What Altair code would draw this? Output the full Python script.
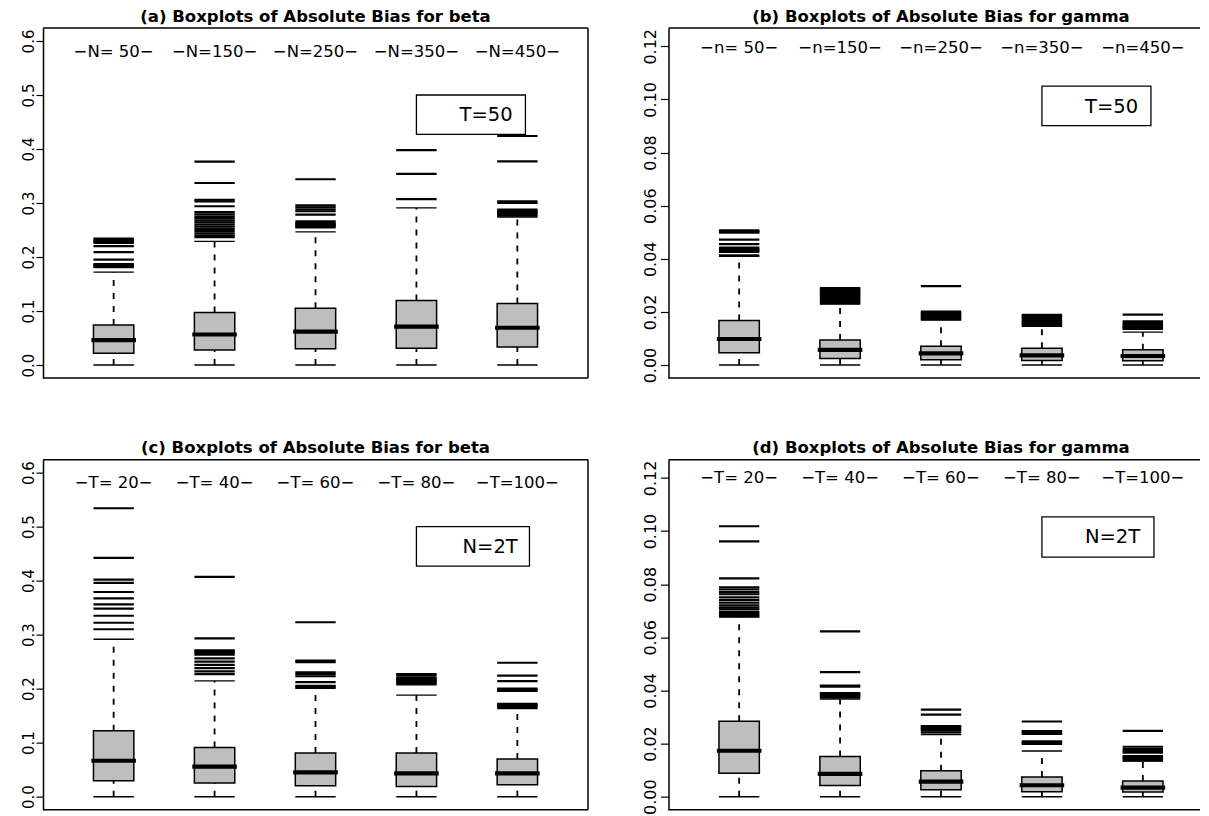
import altair as alt
import pandas as pd

# ---------------- data ----------------
# (a) beta, T=50
A_LABELS = ["−N= 50−", "−N=150−", "−N=250−", "−N=350−", "−N=450−"]
A_LOW = [0.0, 0.0, 0.0, 0.0, 0.0]
A_Q1 = [0.0216, 0.0277, 0.0300, 0.0310, 0.0333]
A_MED = [0.0460, 0.0565, 0.0620, 0.0710, 0.0690]
A_Q3 = [0.0740, 0.0975, 0.1050, 0.1195, 0.1140]
A_UP = [0.172, 0.229, 0.2465, 0.291, 0.274]
A_OUT = [
    [0.181, 0.183, 0.185, 0.187, 0.195, 0.209, 0.220, 0.226, 0.228, 0.230, 0.232, 0.234],
    [0.237, 0.240, 0.244, 0.248, 0.252, 0.256, 0.260, 0.264, 0.268, 0.272, 0.275, 0.279,
     0.283, 0.294, 0.303, 0.306, 0.337, 0.3765],
    [0.255, 0.257, 0.259, 0.261, 0.263, 0.266, 0.2785, 0.2847, 0.288, 0.292, 0.2957, 0.344],
    [0.307, 0.354, 0.398],
    [0.2765, 0.279, 0.281, 0.283, 0.285, 0.288, 0.300, 0.303, 0.377, 0.424],
]

# (b) gamma, T=50
B_LABELS = ["−n= 50−", "−n=150−", "−n=250−", "−n=350−", "−n=450−"]
B_LOW = [0.0, 0.0, 0.0, 0.0, 0.0]
B_Q1 = [0.0046, 0.0025, 0.0020, 0.00175, 0.0016]
B_MED = [0.0098, 0.0057, 0.0044, 0.0036, 0.0034]
B_Q3 = [0.0168, 0.0094, 0.0071, 0.0063, 0.0058]
B_UP = [0.0409, 0.0230, 0.0169, 0.0146, 0.0124]
B_OUT = [
    [0.0413, 0.0426, 0.0430, 0.0434, 0.0438, 0.0442, 0.0455, 0.0472, 0.0498, 0.0501, 0.0504, 0.0507],
    [0.0233, 0.0237, 0.0241, 0.0245, 0.0249, 0.0253, 0.0259, 0.0263, 0.0267, 0.0271, 0.0275,
     0.0279, 0.0283, 0.0287, 0.0290],
    [0.0173, 0.0177, 0.0181, 0.0185, 0.0189, 0.0193, 0.0197, 0.0201, 0.0297],
    [0.0151, 0.0155, 0.0160, 0.0165, 0.0170, 0.0175, 0.0180, 0.0185, 0.0189],
    [0.0136, 0.0140, 0.0143, 0.0146, 0.0150, 0.0155, 0.0160, 0.0164, 0.0190],
]

# (c) beta, N=2T
C_LABELS = ["−T= 20−", "−T= 40−", "−T= 60−", "−T= 80−", "−T=100−"]
C_LOW = [0.0, 0.0, 0.0, 0.0, 0.0]
C_Q1 = [0.0296, 0.0253, 0.0203, 0.0190, 0.0222]
C_MED = [0.0665, 0.0555, 0.0450, 0.0431, 0.0431]
C_Q3 = [0.1220, 0.0912, 0.0807, 0.0807, 0.0696]
C_UP = [0.2914, 0.2144, 0.2009, 0.1880, 0.1630]
C_OUT = [
    [0.310, 0.322, 0.335, 0.348, 0.356, 0.367, 0.379, 0.396, 0.402, 0.442, 0.534],
    [0.227, 0.232, 0.238, 0.244, 0.250, 0.256, 0.263, 0.266, 0.269, 0.271, 0.293, 0.407],
    [0.203, 0.205, 0.212, 0.223, 0.227, 0.230, 0.249, 0.252, 0.323],
    [0.208, 0.210, 0.212, 0.214, 0.216, 0.218, 0.220, 0.224, 0.227],
    [0.166, 0.168, 0.170, 0.172, 0.196, 0.198, 0.200, 0.214, 0.224, 0.248],
]

# (d) gamma, N=2T
D_LABELS = ["−T= 20−", "−T= 40−", "−T= 60−", "−T= 80−", "−T=100−"]
D_LOW = [0.0, 0.0, 0.0, 0.0, 0.0]
D_Q1 = [0.0088, 0.0042, 0.0026, 0.0019, 0.0018]
D_MED = [0.0173, 0.0086, 0.0057, 0.0043, 0.0034]
D_Q3 = [0.0284, 0.0151, 0.0098, 0.0074, 0.0059]
D_UP = [0.0676, 0.0368, 0.0234, 0.0172, 0.0134]
D_OUT = [
    [0.0680, 0.0685, 0.0690, 0.0695, 0.0705, 0.0712, 0.0720, 0.0730, 0.0740, 0.0750, 0.0762,
     0.0770, 0.0780, 0.0788, 0.0822, 0.0961, 0.1018],
    [0.0374, 0.0378, 0.0382, 0.0386, 0.0390, 0.0414, 0.0418, 0.0469, 0.0622],
    [0.0242, 0.0250, 0.0254, 0.0258, 0.0262, 0.0266, 0.0309, 0.0328],
    [0.0199, 0.0202, 0.0205, 0.0208, 0.0236, 0.0240, 0.0244, 0.0247, 0.0283],
    [0.0137, 0.0141, 0.0145, 0.0149, 0.0153, 0.0166, 0.0170, 0.0174, 0.0180, 0.0188, 0.0248],
]

BETA_TICKS = [0.0, 0.1, 0.2, 0.3, 0.4, 0.5, 0.6]
GAMMA_TICKS = [0.0, 0.02, 0.04, 0.06, 0.08, 0.10, 0.12]

# ---------------- drawing ----------------
FONT = "DejaVu Sans"
BOX_HALF = 0.2
GREY = "#bebebe"
W_FULL = 545          # full width of one R plot region (5.4 x-units)
UNIT = W_FULL / 5.4   # pixels per x unit


def panel(title, labels, low, q1, med, q3, up, outs, ydom, yvals, yfmt, label_y,
          leg_text, leg_box, leg_txt, width, height, tick_font, tick_size,
          label_pad, extent, right_border):
    xmax = 0.3 + width / UNIT
    pos = list(range(1, len(labels) + 1))
    boxes = pd.DataFrame({"pos": pos, "label": labels, "low": low, "q1": q1,
                          "med": med, "q3": q3, "up": up})
    outl = pd.DataFrame({"pos": [p for p, o in zip(pos, outs) for _ in o],
                         "val": [v for o in outs for v in o]})
    xs = alt.Scale(domain=[0.3, xmax], nice=False, zero=False)
    ys = alt.Scale(domain=ydom, nice=False, zero=False)
    yaxis = alt.Axis(values=yvals, format=yfmt, title=None, grid=False, labelAngle=270,
                     labelAlign="center", labelBaseline="alphabetic", labelFont=FONT,
                     labelFontSize=tick_font, labelColor="black", labelPadding=label_pad,
                     tickSize=tick_size, tickColor="black", tickWidth=1.2, domain=True,
                     domainColor="black", domainWidth=1.5, labelOverlap=False,
                     labelFlush=False, minExtent=extent, maxExtent=extent)

    def X(f):
        return alt.X(f, type="quantitative", scale=xs, axis=None)

    def Y(f):
        return alt.Y(f, type="quantitative", scale=ys, axis=yaxis)

    base = alt.Chart(boxes).transform_calculate(
        xl=f"datum.pos - {BOX_HALF}", xr=f"datum.pos + {BOX_HALF}")

    whisk_up = base.mark_rule(color="black", strokeWidth=1.8, strokeDash=[6, 7]).encode(
        x=X("pos"), y=Y("q3"), y2="up")
    whisk_lo = base.mark_rule(color="black", strokeWidth=1.8, strokeDash=[6, 7]).encode(
        x=X("pos"), y=Y("low"), y2="q1")
    cap_up = base.mark_rule(color="black", strokeWidth=1.4).encode(
        x=X("xl"), x2="xr", y=Y("up"))
    cap_lo = base.mark_rule(color="black", strokeWidth=1.4).encode(
        x=X("xl"), x2="xr", y=Y("low"))
    box = base.mark_rect(fill=GREY, stroke="black", strokeWidth=1.5).encode(
        x=X("xl"), x2="xr", y=Y("q1"), y2="q3")
    median = base.mark_rule(color="black", strokeWidth=4.2, strokeCap="square").encode(
        x=X("xl"), x2="xr", y=Y("med"))
    outliers = alt.Chart(outl).transform_calculate(
        xl=f"datum.pos - {BOX_HALF}", xr=f"datum.pos + {BOX_HALF}").mark_rule(
        color="black", strokeWidth=2.2).encode(x=X("xl"), x2="xr", y=Y("val"))
    names = base.mark_text(font=FONT, fontSize=16.5, color="black", baseline="middle",
                           align="center").encode(
        x=X("pos"), y=alt.YDatum(label_y, scale=ys, axis=yaxis), text="label")

    leg_df = pd.DataFrame({"t": [leg_text]})
    leg_rect = alt.Chart(leg_df).mark_rect(fill="white", stroke="black", strokeWidth=1.3).encode(
        x=alt.XDatum(leg_box[0], scale=xs, axis=None), x2=alt.X2Datum(leg_box[1]),
        y=alt.YDatum(leg_box[2], scale=ys, axis=yaxis), y2=alt.Y2Datum(leg_box[3]))
    leg_label = alt.Chart(leg_df).mark_text(font=FONT, fontSize=19.5, color="black",
                                            baseline="middle", align="center").encode(
        x=alt.XDatum(leg_txt[0], scale=xs, axis=None),
        y=alt.YDatum(leg_txt[1], scale=ys, axis=yaxis), text="t")

    one = pd.DataFrame({"k": [0]})
    frame = [
        alt.Chart(one).mark_rule(color="black", strokeWidth=1.5).encode(
            x=alt.value(0), x2=alt.value(width), y=alt.value(0)),
        alt.Chart(one).mark_rule(color="black", strokeWidth=1.5).encode(
            x=alt.value(0), x2=alt.value(width), y=alt.value(height)),
    ]
    if right_border:
        frame.append(alt.Chart(one).mark_rule(color="black", strokeWidth=1.5).encode(
            x=alt.value(width), y=alt.value(0), y2=alt.value(height)))
    heading = alt.Chart(one).mark_text(font=FONT, fontSize=16.5, fontWeight="bold",
                                       color="black", align="center",
                                       baseline="alphabetic").encode(
        x=alt.value(W_FULL / 2), y=alt.value(-6.5), text=alt.value(title))

    layers = [whisk_up, whisk_lo, cap_up, cap_lo, box, median, outliers, names,
              leg_rect, leg_label] + frame + [heading]
    return alt.layer(*layers).properties(width=width, height=height)


W_R = 531.5   # right-hand panels are cut by the window edge, as in the reference
H = 350
BETA_DOM = [-0.024, 0.624]
GAMMA_DOM = [-0.00488, 0.12688]

pa = panel("(a) Boxplots of Absolute Bias for beta", A_LABELS, A_LOW, A_Q1, A_MED, A_Q3,
           A_UP, A_OUT, BETA_DOM, BETA_TICKS, ".1f", 0.58, "T=50",
           (4.0, 5.08, 0.5, 0.427), (4.69, 0.463), W_FULL, H, 15, 7, 3, 35, True)
pb = panel("(b) Boxplots of Absolute Bias for gamma", B_LABELS, B_LOW, B_Q1, B_MED, B_Q3,
           B_UP, B_OUT, GAMMA_DOM, GAMMA_TICKS, ".2f", 0.1195, "T=50",
           (4.0, 5.08, 0.105, 0.0901), (4.69, 0.0971), W_R, H, 16, 8, 5, 36, False)
pc = panel("(c) Boxplots of Absolute Bias for beta", C_LABELS, C_LOW, C_Q1, C_MED, C_Q3,
           C_UP, C_OUT, BETA_DOM, BETA_TICKS, ".1f", 0.58, "N=2T",
           (4.0, 5.12, 0.5, 0.427), (4.73, 0.463), W_FULL, H, 15, 7, 3, 35, True)
pd_ = panel("(d) Boxplots of Absolute Bias for gamma", D_LABELS, D_LOW, D_Q1, D_MED, D_Q3,
            D_UP, D_OUT, GAMMA_DOM, GAMMA_TICKS, ".2f", 0.12, "N=2T",
            (4.0, 5.11, 0.1053, 0.0902), (4.70, 0.0977), W_R, H, 16, 8, 5, 36, False)

top = alt.hconcat(pa, pb, spacing=43.5)
bottom = alt.hconcat(pc, pd_, spacing=43.5)
chart = alt.vconcat(top, bottom, spacing=56.65).properties(
    padding=0, background="white").configure_view(stroke=None)

chart.save("out.html", embed_options={"renderer": "svg", "actions": False})
